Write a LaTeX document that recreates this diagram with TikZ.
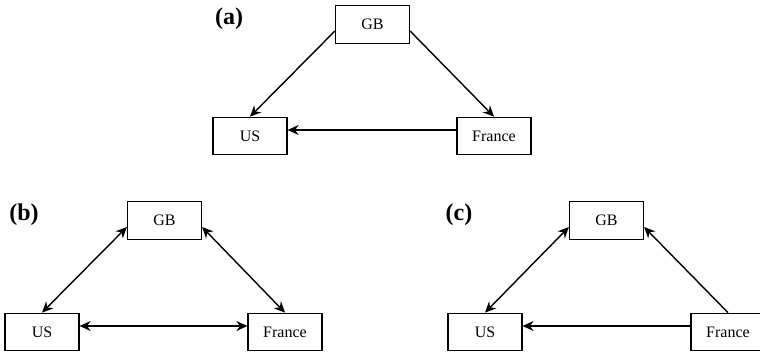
\documentclass[tikz,border=0pt]{standalone}
\usepackage{fontspec}
\setmainfont{Liberation Serif}
\usetikzlibrary{arrows.meta}
\tikzset{
  country/.style={draw, line width=0.6pt, minimum width=37pt, minimum height=18.75pt,
    inner sep=0pt, font=\fontsize{8}{9}\selectfont},
  panel/.style={font=\fontsize{12}{14}\selectfont\bfseries},
}
\begin{document}
\begin{tikzpicture}[x=0.5pt, y=-0.5pt, line width=0.7pt,
    >={Stealth[length=5.5pt, width=5pt, inset=1.8pt]}]
  \useasboundingbox (0, 0) rectangle (760, 352) ;
  % (a)
  \node[panel] (labA) at (229, 19) {(a)} ;
  \node[country] (gbA) at (372.5, 24.5) {GB} ;
  \node[country] (usA) at (250, 136) {US} ;
  \node[country] (frA) at (494, 136) {France} ;
  \draw[->] ([yshift=-3.25pt]gbA.west) -- (usA.north) ;
  \draw[->] ([yshift=-3.25pt]gbA.east) -- (frA.north) ;
  \draw[->] ([yshift=3pt]frA.west) -- ([yshift=3pt]usA.east) ;
  % (b)
  \node[panel] (labB) at (24, 215) {(b)} ;
  \node[country] (gbB) at (164.5, 220.5) {GB} ;
  \node[country] (usB) at (42, 332) {US} ;
  \node[country] (frB) at (285, 332) {France} ;
  \draw[<->] ([yshift=-3.25pt]gbB.west) -- (usB.north) ;
  \draw[<->] ([yshift=-3.25pt]gbB.east) -- (frB.north) ;
  \draw[<->] ([yshift=3pt]usB.east) -- ([yshift=3pt]frB.west) ;
  % (c)
  \node[panel] (labC) at (459, 215) {(c)} ;
  \node[country] (gbC) at (606.5, 220.5) {GB} ;
  \node[country] (usC) at (485, 332) {US} ;
  \node[country] (frC) at (728, 332) {France} ;
  \draw[<->] ([yshift=-3.25pt]gbC.west) -- (usC.north) ;
  \draw[->] (frC.north) -- ([yshift=-3.25pt]gbC.east) ;
  \draw[->] ([yshift=3pt]frC.west) -- ([yshift=3pt]usC.east) ;
\end{tikzpicture}
\end{document}
